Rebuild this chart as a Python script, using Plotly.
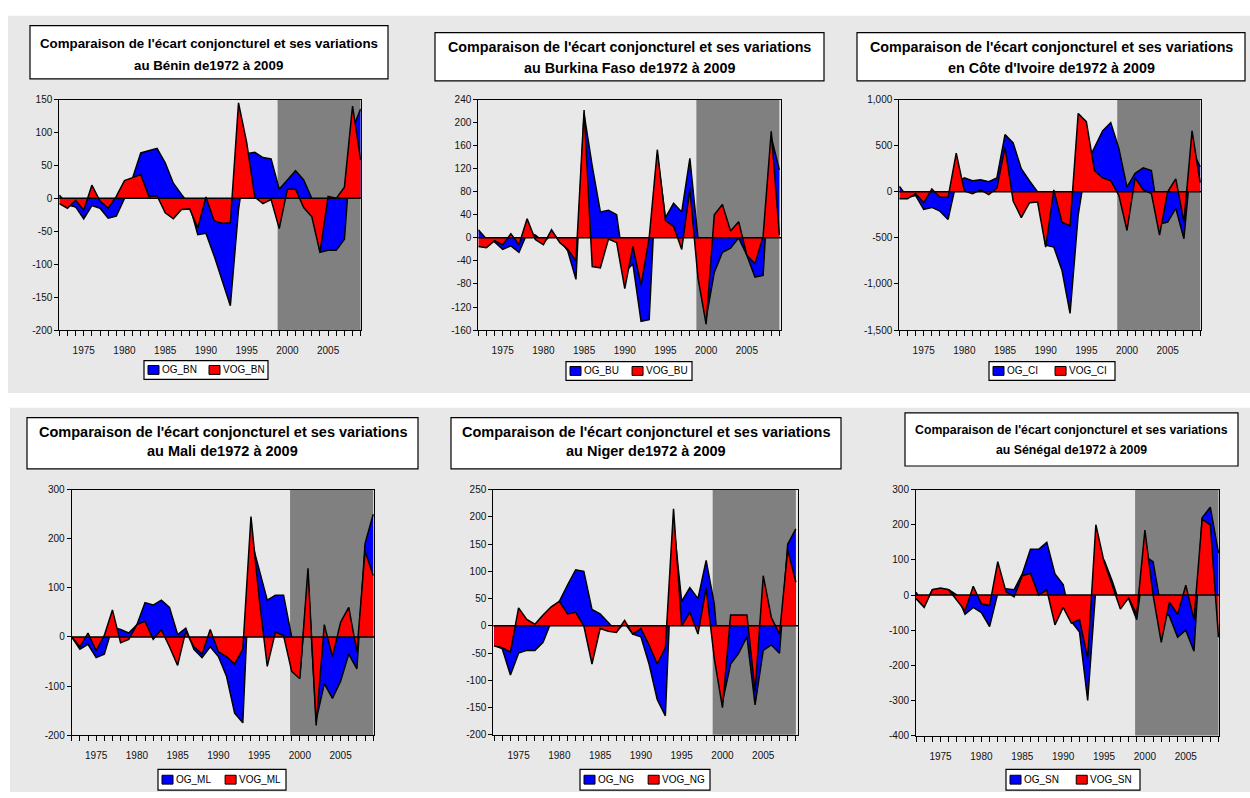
import plotly.graph_objects as go

W, H = 1250, 798

years = list(range(1972, 2010))
x_tick_years = [1975, 1980, 1985, 1990, 1995, 2000, 2005]

# ---------------- data ----------------
OG_BN = [5, -10, -13, -31, -11, -15, -30, -27, 0, 31, 69, 72, 76, 54, 23, 6, -10, -55, -53, -87,
         -125, -163, -17, 68, 70, 62, 60, 14, 28, 42, 28, 0, -82, -79, -79, -62, 105, 136]
VOG_BN = [-8, -15, -3, -18, 20, -4, -15, 3, 27, 31, 36, 3, 4, -22, -31, -17, -16, -45, 2, -34,
          -38, -37, 145, 85, 2, -8, -2, -46, 14, 14, -14, -28, -82, 3, 0, 17, 140, 58]

OG_BU = [14, -2, -7, -20, -14, -25, 8, 5, -7, 5, -2, -23, -72, 215, 125, 45, 48, 40, -60, -45,
         -145, -142, 145, 35, 60, 45, 138, 0, -140, -60, -25, -18, 0, -30, -68, -65, 175, 118]
VOG_BU = [-15, -17, -5, -12, 7, -12, 33, -3, -12, 14, -8, -20, -40, 222, -50, -52, -2, -8, -88, -15,
          -82, 0, 153, 30, 20, -20, 85, -70, -150, 40, 58, 12, 28, -30, -45, 3, 185, 5]

OG_CI = [60, -60, -40, -190, -170, -210, -300, 100, 150, 120, 130, 110, 150, 620, 530, 250, 120, 0, -580, -600,
         -850, -1320, -250, 300, 480, 660, 750, 470, 50, 200, 260, 230, -350, -330, -180, -510, 450, 270]
VOG_CI = [-75, -75, -20, -120, 30, -60, -60, 420, 10, -20, 20, -30, 40, 480, -100, -280, -120, -110, -600, 20,
          -330, -370, 850, 760, 230, 150, 120, -40, -420, 150, 20, -20, -470, 0, 140, -330, 660, 100]

OG_ML = [0, -25, -15, -42, -35, 20, 15, 8, 25, 70, 65, 75, 60, 5, 18, -25, -42, -20, -40, -80,
         -155, -175, 200, 135, 75, 85, 85, 0, -80, 120, -170, -95, -125, -90, -35, -65, 190, 250]
VOG_ML = [0, -20, 8, -28, 3, 55, -12, -5, 25, 32, -5, 15, -20, -58, 12, -20, -35, 15, -30, -40,
          -55, -25, 245, 80, -60, 10, 3, -70, -85, 140, -180, 25, -40, 30, 60, -30, 175, 125]

OG_NG = [-35, -42, -90, -50, -45, -45, -30, 8, 45, 75, 103, 100, 30, 22, 5, -10, 5, -15, -20, -70,
         -135, -165, 190, 45, 70, 50, 120, 40, -140, -70, -50, -20, -145, -45, -35, -50, 150, 178]
VOG_NG = [-37, -40, -48, 33, 12, 3, 20, 35, 45, 22, 25, 0, -70, -5, -10, -12, 10, -15, -5, -35,
          -70, -40, 215, 0, 25, -15, 70, -60, -150, 20, 20, 20, -120, 92, 15, -15, 140, 80]

OG_SN = [8, -30, 15, 18, 15, 0, -55, -35, -50, -90, 5, 18, 15, 60, 130, 130, 150, 60, 30, -75,
         -105, -300, 20, 100, 40, -30, -10, -70, 110, 95, -40, -60, -120, -100, -160, 220, 250, 120]
VOG_SN = [-10, -35, 15, 20, 15, -15, -45, 25, -25, -30, 95, 10, -5, 55, 62, 0, 15, -85, -35, -80,
          -70, -180, 200, 95, 30, -40, -8, -55, 185, 0, -135, -20, -55, 28, -70, 215, 200, -120]

TITLE_LINE1 = "Comparaison de l'écart conjoncturel et ses variations"
TITLES_LINE2 = ["au Bénin de1972 à 2009", "au Burkina Faso de1972 à 2009",
                "en Côte d'Ivoire de1972 à 2009", "au Mali de1972 à 2009",
                "au Niger de1972 à 2009", "au Sénégal de1972 à 2009"]
CODES = ["BN", "BU", "CI", "ML", "NG", "SN"]
OG_SERIES = [OG_BN, OG_BU, OG_CI, OG_ML, OG_NG, OG_SN]
VOG_SERIES = [VOG_BN, VOG_BU, VOG_CI, VOG_ML, VOG_NG, VOG_SN]

Y_TICKVALS = [
    [150, 100, 50, 0, -50, -100, -150, -200],
    [240, 200, 160, 120, 80, 40, 0, -40, -80, -120, -160],
    [1000, 500, 0, -500, -1000, -1500],
    [300, 200, 100, 0, -100, -200],
    [250, 200, 150, 100, 50, 0, -50, -100, -150, -200],
    [300, 200, 100, 0, -100, -200, -300, -400],
]
Y_TICKTEXT = [
    ["150", "100", "50", "0", "-50", "-100", "-150", "-200"],
    ["240", "200", "160", "120", "80", "40", "0", "-40", "-80", "-120", "-160"],
    ["1,000", "500", "0", "-500", "-1,000", "-1,500"],
    ["300", "200", "100", "0", "-100", "-200"],
    ["250", "200", "150", "100", "50", "0", "-50", "-100", "-150", "-200"],
    ["300", "200", "100", "0", "-100", "-200", "-300", "-400"],
]
SHADE_START, SHADE_END = 1998.8, 2009

# ---------------- layout geometry (pixels) ----------------
LAYOUT = [
    dict(px=(59.3, 360.7), py=(95, 329), xr=[1972, 2009.0], yr=[-200, 150],
         tbox=(30, 388, 20, 74), tl=(38.5, 60.5), tfs=13.3, leg=(144, 268, 360, 379), xso=6),
    dict(px=(478.3, 781.0), py=(95, 329), xr=[1972, 2009.2], yr=[-160, 240],
         tbox=(435, 824, 27, 76), tl=(42, 63), tfs=14.3, leg=(566, 692, 361, 380), xso=6),
    dict(px=(899.3, 1201.0), py=(95, 329), xr=[1972, 2009.1], yr=[-1500, 1000],
         tbox=(857, 1245, 27, 76), tl=(42, 63), tfs=14.3, leg=(989, 1115, 361, 380), xso=6),
    dict(px=(71.7, 374.0), py=(491, 740.3), xr=[1972, 2009.1], yr=[-200, 300],
         tbox=(27, 418, 418, 470), tl=(432, 452), tfs=14.5, leg=(158, 286, 775, 796), xso=6),
    dict(px=(493.3, 798.3), py=(491, 740), xr=[1971.9, 2009.3], yr=[-200, 250],
         tbox=(451, 841, 418, 470), tl=(432, 452), tfs=14.5, leg=(580, 710, 775, 796), xso=6),
    dict(px=(916.0, 1219.3), py=(491, 740.7), xr=[1972, 2009.1], yr=[-400, 300],
         tbox=(905, 1238, 413, 467), tl=(430, 451), tfs=12.3, leg=(1006, 1140, 775, 796), xso=6),
]

BLUE = "#0000ff"
RED = "#ff0000"
BAND = "#e8e8e8"
SHADE = "#808080"
TITLEFONT = "Liberation Sans, Arial"
TICKFONT = dict(family="Liberation Sans, Arial", size=10, color="#111111")

fig = go.Figure()
shapes = []
annotations = []


def px2x(v):
    return v / W


def py2y(v):
    return 1 - v / H


# grey background bands
shapes.append(dict(type="rect", xref="paper", yref="paper", x0=px2x(8), x1=1.0,
                   y0=py2y(393), y1=py2y(10), fillcolor=BAND, line=dict(width=0), layer="below"))
shapes.append(dict(type="rect", xref="paper", yref="paper", x0=px2x(10), x1=1.0,
                   y0=0.0, y1=py2y(408), fillcolor=BAND, line=dict(width=0), layer="below"))

for i in range(6):
    n = i + 1
    sfx = "" if n == 1 else str(n)
    xa, ya = "x" + sfx, "y" + sfx
    L = LAYOUT[i]

    fig.add_trace(go.Scatter(x=years, y=OG_SERIES[i], mode="lines", fill="tozeroy", name="OG_" + CODES[i],
                             fillcolor=BLUE, line=dict(color="black", width=1.5),
                             xaxis=xa, yaxis=ya, showlegend=False, hoverinfo="skip"))
    fig.add_trace(go.Scatter(x=years, y=VOG_SERIES[i], mode="lines", fill="tozeroy", name="VOG_" + CODES[i],
                             fillcolor=RED, line=dict(color="black", width=1.5),
                             xaxis=xa, yaxis=ya, showlegend=False, hoverinfo="skip"))

    x0, x1 = L["px"]
    y0, y1 = L["py"]
    fig.layout["xaxis" + sfx] = dict(
        domain=[px2x(x0), px2x(x1)], anchor=ya, range=L["xr"], tickmode="array",
        tickvals=x_tick_years, ticktext=[str(v) for v in x_tick_years],
        ticks="outside", ticklen=5, tickcolor="black", tickwidth=1, ticklabelstandoff=L["xso"],
        minor=dict(tickmode="array", tickvals=years, ticks="outside", ticklen=5, tickcolor="black", tickwidth=1),
        showline=True, linecolor="black", linewidth=1, mirror=True,
        showgrid=False, zeroline=False, tickfont=TICKFONT, fixedrange=True)
    fig.layout["yaxis" + sfx] = dict(
        domain=[py2y(y1), py2y(y0)], anchor=xa, range=L["yr"], tickmode="array",
        tickvals=Y_TICKVALS[i], ticktext=Y_TICKTEXT[i],
        ticks="outside", ticklen=4, tickcolor="black", tickwidth=1,
        showline=True, linecolor="black", linewidth=1, mirror=True,
        showgrid=False, zeroline=False, tickfont=TICKFONT, fixedrange=True)

    # shaded period
    shapes.append(dict(type="rect", xref=xa, yref=ya + " domain", x0=SHADE_START, x1=SHADE_END,
                       y0=0, y1=1, fillcolor=SHADE, line=dict(width=0), layer="below"))
    # zero line
    shapes.append(dict(type="line", xref=xa + " domain", yref=ya, x0=0, x1=1, y0=0, y1=0,
                       line=dict(color="black", width=1.5), layer="above"))

    # title box
    bx0, bx1, by0, by1 = L["tbox"]
    shapes.append(dict(type="rect", xref="paper", yref="paper", x0=px2x(bx0), x1=px2x(bx1),
                       y0=py2y(by1), y1=py2y(by0), fillcolor="white",
                       line=dict(color="black", width=1.2), layer="above"))
    for txt, ty in ((TITLE_LINE1, L["tl"][0]), (TITLES_LINE2[i], L["tl"][1])):
        annotations.append(dict(
            xref="paper", yref="paper", x=px2x((bx0 + bx1) / 2), y=py2y(ty),
            xanchor="center", yanchor="middle", showarrow=False, text="<b>" + txt + "</b>",
            font=dict(family=TITLEFONT, size=L["tfs"], color="black")))

    # legend box
    lx0, lx1, ly0, ly1 = L["leg"]
    shapes.append(dict(type="rect", xref="paper", yref="paper", x0=px2x(lx0), x1=px2x(lx1),
                       y0=py2y(ly1), y1=py2y(ly0), fillcolor="white",
                       line=dict(color="black", width=1.2), layer="above"))
    cy = (ly0 + ly1) / 2
    lw = lx1 - lx0
    items = [("OG_" + CODES[i], BLUE, lx0 + 4), ("VOG_" + CODES[i], RED, lx0 + 65 * lw / 124)]
    for name, col, sx in items:
        shapes.append(dict(type="rect", xref="paper", yref="paper", x0=px2x(sx), x1=px2x(sx + 11),
                           y0=py2y(cy + 4.5), y1=py2y(cy - 4.5), fillcolor=col,
                           line=dict(color="black", width=1), layer="above"))
        annotations.append(dict(
            xref="paper", yref="paper", x=px2x(sx + 12), y=py2y(cy),
            xanchor="left", yanchor="middle", showarrow=False, text=name,
            font=dict(family="Liberation Sans, Arial", size=10, color="black")))

fig.update_layout(
    width=W, height=H, autosize=False,
    margin=dict(l=0, r=0, t=0, b=0),
    paper_bgcolor="white", plot_bgcolor="white",
    shapes=shapes, annotations=annotations, showlegend=False,
)

fig.write_html("out.html", config={"displayModeBar": False},
               post_script="document.body.style.margin='0px';")
